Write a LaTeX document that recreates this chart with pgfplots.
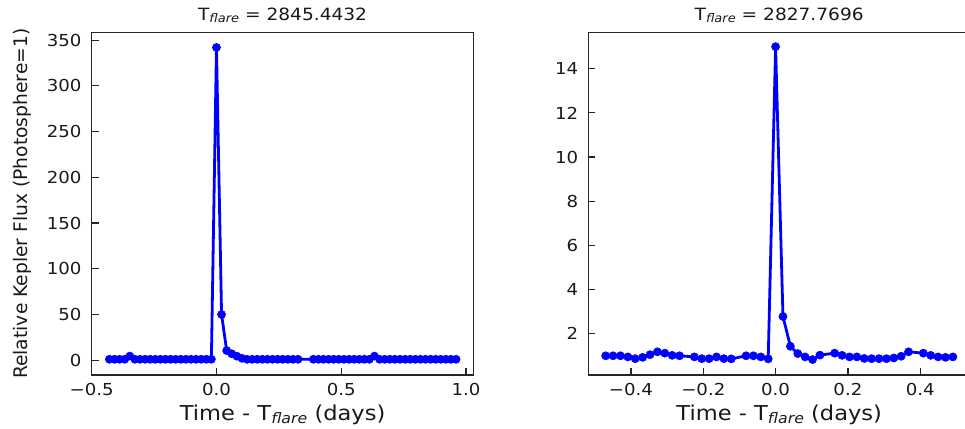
\documentclass[border=0pt]{standalone}
\usepackage{fontspec}
\setmainfont{DejaVu Sans}[FakeStretch=1.1]
\newfontfamily\ylfont{DejaVu Sans}
\usepackage{graphicx}
\usepackage{pgfplots}
\usepackage{pgfplotstable}
\pgfplotsset{compat=1.18}
\newcommand\sub[1]{\raisebox{-0.12em}{\scalebox{0.7}{\itshape #1}}}

\pgfplotstableread{
t f
-0.4290 1.0
-0.4086 1.0
-0.3882 1.0
-0.3677 1.0
-0.3473 4.5
-0.3269 1.0
-0.3065 1.0
-0.2860 1.0
-0.2656 1.0
-0.2452 1.0
-0.2247 1.0
-0.2043 1.0
-0.1839 1.0
-0.1634 1.0
-0.1430 1.0
-0.1226 1.0
-0.1022 1.0
-0.0817 1.0
-0.0613 1.0
-0.0409 1.0
-0.0204 1.0
0.0000 342
0.0204 50
0.0409 10.5
0.0613 7
0.0817 4.4
0.1022 2
0.1226 1.0
0.1430 1.0
0.1634 1.0
0.1839 1.0
0.2043 1.0
0.2247 1.0
0.2452 1.0
0.2656 1.0
0.2860 1.0
0.3065 1.0
0.3269 1.0
0.3882 1.0
0.4086 1.0
0.4290 1.0
0.4495 1.0
0.4699 1.0
0.4903 1.0
0.5108 1.0
0.5312 1.0
0.5516 1.0
0.5720 1.0
0.5925 1.0
0.6129 1.0
0.6333 4.5
0.6538 1.0
0.6742 1.0
0.6946 1.0
0.7151 1.0
0.7355 1.0
0.7559 1.0
0.7763 1.0
0.7968 1.0
0.8172 1.0
0.8376 1.0
0.8581 1.0
0.8785 1.0
0.8989 1.0
0.9194 1.0
0.9398 1.0
0.9602 1.0
}\leftdata

\pgfplotstableread{
t f
-0.4699 1.00
-0.4495 1.00
-0.4290 1.00
-0.4086 0.95
-0.3882 0.87
-0.3677 0.93
-0.3473 1.05
-0.3269 1.18
-0.3065 1.12
-0.2860 1.02
-0.2656 1.00
-0.2247 0.95
-0.2043 0.87
-0.1839 0.87
-0.1634 0.95
-0.1430 0.87
-0.1226 0.86
-0.0817 1.00
-0.0613 1.00
-0.0409 0.95
-0.0204 0.86
0.0000 15.0
0.0204 2.78
0.0409 1.43
0.0613 1.10
0.0817 0.95
0.1022 0.83
0.1226 1.03
0.1634 1.12
0.1839 1.02
0.2043 0.95
0.2247 0.95
0.2452 0.88
0.2656 0.87
0.2860 0.87
0.3065 0.87
0.3269 0.90
0.3473 0.98
0.3677 1.18
0.4086 1.12
0.4290 1.02
0.4495 0.95
0.4699 0.93
0.4903 0.95
}\rightdata

\pgfplotsset{
  every axis title shift=0pt,
  myaxis/.style={
    scale only axis, width=381.8pt, height=342.7pt,
    anchor=south west,
    axis line style={black!85, line width=1.2pt},
    tick align=inside, tick pos=left,
    major tick length=7pt,
    tick style={black!85, line width=1.2pt},
    ticklabel style={font=\fontsize{16.5}{18}\selectfont, text=black!90},
    xticklabel style={anchor=north, inner sep=0pt, yshift=-7.7pt},
    yticklabel style={anchor=east, inner sep=0pt, xshift=-10pt},
    title style={at={(axis description cs:0.5,1.0338)}, anchor=base, font=\fontsize{16.9}{18}\selectfont, inner sep=0pt, text=black!90},
    xlabel style={at={(axis description cs:0.5,-0.1334)}, anchor=base, font=\fontsize{20.5}{22}\selectfont, inner sep=0pt, text=black!90},
    ylabel style={at={(axis description cs:-0.1826,0.5)}, anchor=center, font=\ylfont\fontsize{18.7}{20}\selectfont, inner sep=0pt, text=black!90},
  },
  mydata/.style={blue, line width=2.8pt, mark=*, mark size=4.1pt, mark options={solid, fill=blue, draw=blue, line width=0.5pt}},
}

\begin{document}
\begin{tikzpicture}
\begin{axis}[myaxis, at={(91.7pt,53pt)},
  xmin=-0.5, xmax=1.03, ymin=-16.2, ymax=358.6,
  xtick={-0.5,0,0.5,1}, xticklabels={−0.5,0.0,0.5,1.0},
  ytick={0,50,100,150,200,250,300,350}, yticklabels={0,50,100,150,200,250,300,350},
  title={T\sub{flare} = 2845.4432},
  xlabel={Time - T\sub{flare} (days)},
  ylabel={Relative Kepler Flux (Photosphere=1)}]
\addplot[mydata] table[x=t, y=f] {\leftdata};
\end{axis}
\begin{axis}[myaxis, at={(588.3pt,53pt)},
  xmin=-0.518, xmax=0.538, ymin=0.13, ymax=15.65,
  xtick={-0.4,-0.2,0,0.2,0.4}, xticklabels={−0.4,−0.2,0.0,0.2,0.4},
  ytick={2,4,6,8,10,12,14}, yticklabels={2,4,6,8,10,12,14},
  title={T\sub{flare} = 2827.7696},
  xlabel={Time - T\sub{flare} (days)}]
\addplot[mydata] table[x=t, y=f] {\rightdata};
\end{axis}
\pgfresetboundingbox
\useasboundingbox (0,0) rectangle (965pt,428pt);
\end{tikzpicture}
\end{document}
